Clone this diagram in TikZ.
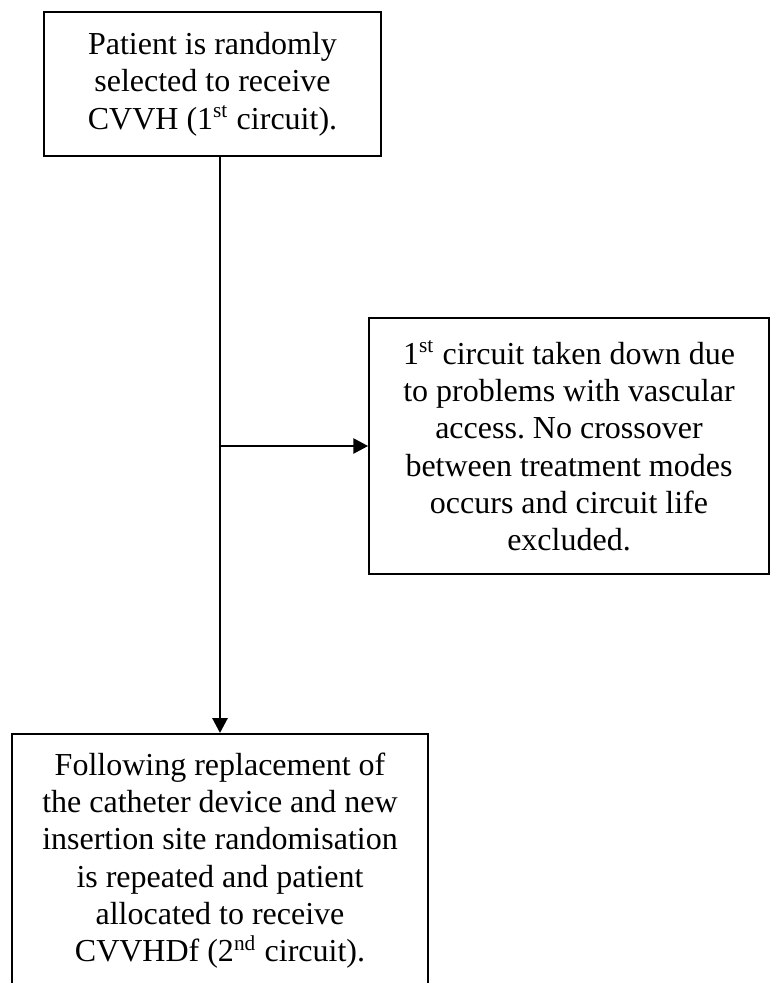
\documentclass[tikz,border=0pt]{standalone}
\usepackage{fontspec}
\setmainfont{Liberation Serif}
\usetikzlibrary{arrows.meta}
\frenchspacing

\begin{document}
\begin{tikzpicture}[x=0.375pt,y=-0.375pt,
    box/.style={draw,line width=0.6pt,align=center,inner sep=0pt,
      font=\fontsize{12}{14}\selectfont}]
  \useasboundingbox (0,0) rectangle (771,983);
  \clip (0,0) rectangle (771,983);
  \draw
    (212.5,84) node[box,minimum width=126.4pt,minimum height=54pt] (select)
      {Patient is randomly\\selected to receive\\CVVH (1\textsuperscript{st} circuit).}
    (569,446) node[box,minimum width=150pt,minimum height=96pt] (down)
      {1\textsuperscript{st} circuit taken down due\\to problems with vascular\\access. No crossover\\between treatment modes\\occurs and circuit life\\excluded.}
    (220,733) node[box,anchor=north,minimum width=156pt,minimum height=95pt] (repeat)
      {Following replacement of\\the catheter device and new\\insertion site randomisation\\is repeated and patient\\allocated to receive\\CVVHDf (2\textsuperscript{nd} circuit).};
  \begin{scope}[-{Triangle[length=5.6pt,width=5.6pt]},line width=1.1pt]
    \draw (repeat.north |- select.south) to (repeat.north);
    \draw (repeat.north |- down.west) to[shorten >=2pt] (down.west);
  \end{scope}
\end{tikzpicture}
\end{document}
